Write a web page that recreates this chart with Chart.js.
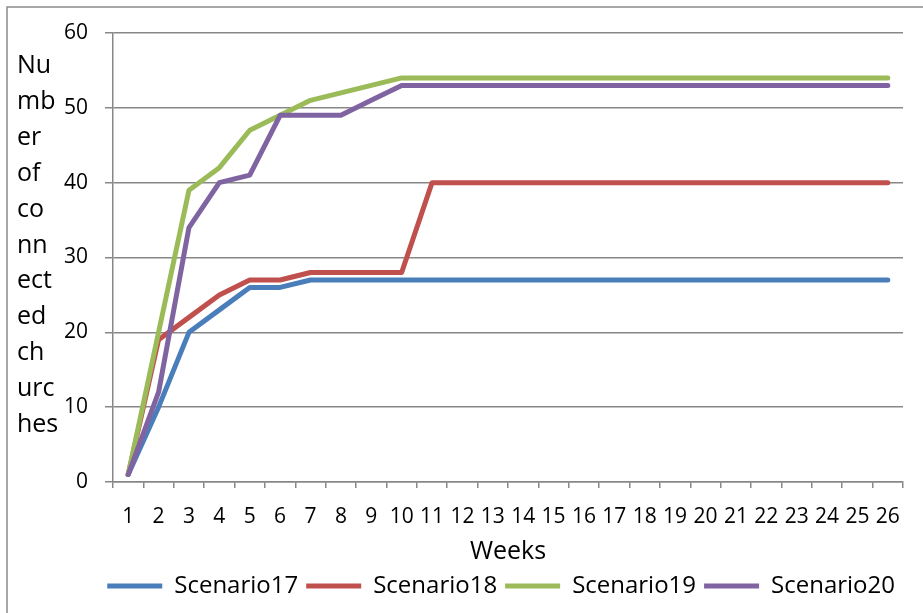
<!DOCTYPE html>
<html>
<head>
<meta charset="utf-8">
<script src="https://cdn.jsdelivr.net/npm/chart.js@4/dist/chart.umd.min.js"></script>
<style>
  html, body { margin: 0; padding: 0; background: #ffffff; }
  #wrap { width: 923px; height: 613px; position: relative; }
</style>
</head>
<body>
<div id="wrap"><canvas id="chart" width="923" height="613"></canvas></div>
<script>
// Weekly count of connected churches per scenario
const weeks = ['1','2','3','4','5','6','7','8','9','10','11','12','13','14','15','16','17','18','19','20','21','22','23','24','25','26'];
const scenario17 = [1, 10, 20, 23, 26, 26, 27, 27, 27, 27, 27, 27, 27, 27, 27, 27, 27, 27, 27, 27, 27, 27, 27, 27, 27, 27];
const scenario18 = [1, 19, 22, 25, 27, 27, 28, 28, 28, 28, 40, 40, 40, 40, 40, 40, 40, 40, 40, 40, 40, 40, 40, 40, 40, 40];
const scenario19 = [1, 20, 39, 42, 47, 49, 51, 52, 53, 54, 54, 54, 54, 54, 54, 54, 54, 54, 54, 54, 54, 54, 54, 54, 54, 54];
const scenario20 = [1, 12, 34, 40, 41, 49, 49, 49, 51, 53, 53, 53, 53, 53, 53, 53, 53, 53, 53, 53, 53, 53, 53, 53, 53, 53];
const seriesNames = ['Scenario17', 'Scenario18', 'Scenario19', 'Scenario20'];
const seriesColors = ['#4A7EBB', '#C0504D', '#9BBB59', '#8064A2'];
const yMin = 0, yMax = 60, yStep = 10;
const xTitle = 'Weeks';
// y-axis caption, broken into short stacked pieces
const yTitleLines = ['Nu', 'mb', 'er', 'of', 'co', 'nn', 'ect', 'ed', 'ch', 'urc', 'hes'];

const FONT = "'Open Sans', 'DejaVu Sans', sans-serif";
const GRID = '#878787';

const seriesData = [scenario17, scenario18, scenario19, scenario20];
const datasets = seriesData.map((vals, i) => ({
  label: seriesNames[i],
  data: vals,
  borderColor: seriesColors[i],
  backgroundColor: seriesColors[i],
  borderWidth: 5,
  borderCapStyle: 'round',
  borderJoinStyle: 'round',
  pointRadius: 0,
  pointHoverRadius: 0,
  tension: 0,
  fill: false,
  order: seriesData.length - i,
  pointStyle: 'line'
}));

// outer frame and the stacked y caption
const decorations = {
  id: 'decorations',
  beforeDraw(chart) {
    const ctx = chart.ctx;
    ctx.save();
    ctx.fillStyle = '#ffffff';
    ctx.fillRect(0, 0, chart.width, chart.height);
    ctx.strokeStyle = '#8a8a8a';
    ctx.lineWidth = 1.5;
    ctx.beginPath();
    ctx.moveTo(chart.width, 7);
    ctx.lineTo(7, 7);
    ctx.lineTo(7, chart.height);
    ctx.stroke();
    ctx.restore();
  },
  afterDraw(chart) {
    const ctx = chart.ctx;
    ctx.save();
    ctx.fillStyle = '#000000';
    ctx.font = '25px ' + FONT;
    ctx.textAlign = 'left';
    ctx.textBaseline = 'alphabetic';
    yTitleLines.forEach((t, i) => ctx.fillText(t, 17, 73 + i * 35.9));
    ctx.restore();
  }
};

new Chart(document.getElementById('chart'), {
  type: 'line',
  data: { labels: weeks, datasets },
  plugins: [decorations],
  options: {
    responsive: false,
    devicePixelRatio: 1,
    animation: false,
    layout: { padding: { left: 0, right: 20, top: 33, bottom: 5 } },
    plugins: {
      tooltip: { enabled: false },
      title: { display: false },
      legend: {
        display: true,
        position: 'bottom',
        align: 'end',
        labels: {
          usePointStyle: true,
          pointStyleWidth: 55,
          padding: 8,
          color: '#000000',
          font: { family: FONT, size: 24 },
          sort: (a, b) => a.datasetIndex - b.datasetIndex
        }
      }
    },
    scales: {
      x: {
        type: 'category',
        offset: true,
        afterFit(scale) { scale.height = 84; },
        grid: {
          offset: true,
          drawOnChartArea: false,
          drawTicks: true,
          tickLength: 6,
          color: GRID,
          lineWidth: 1.5
        },
        border: { display: true, color: GRID, width: 1.5 },
        ticks: {
          color: '#000000',
          font: { family: FONT, size: 21 },
          padding: 16,
          autoSkip: false,
          maxRotation: 0,
          minRotation: 0
        },
        title: {
          display: true,
          text: xTitle,
          color: '#000000',
          font: { family: FONT, size: 25, lineHeight: 1 },
          padding: { top: 0, bottom: 2 }
        }
      },
      y: {
        min: yMin,
        max: yMax,
        afterFit(scale) { scale.width = 113; },
        grid: {
          color: GRID,
          lineWidth: 1.5,
          drawTicks: true,
          tickLength: 8
        },
        border: { display: true, color: GRID, width: 1.5 },
        ticks: {
          stepSize: yStep,
          color: '#000000',
          font: { family: FONT, size: 21 },
          padding: 17
        }
      }
    }
  }
});
</script>
</body>
</html>
